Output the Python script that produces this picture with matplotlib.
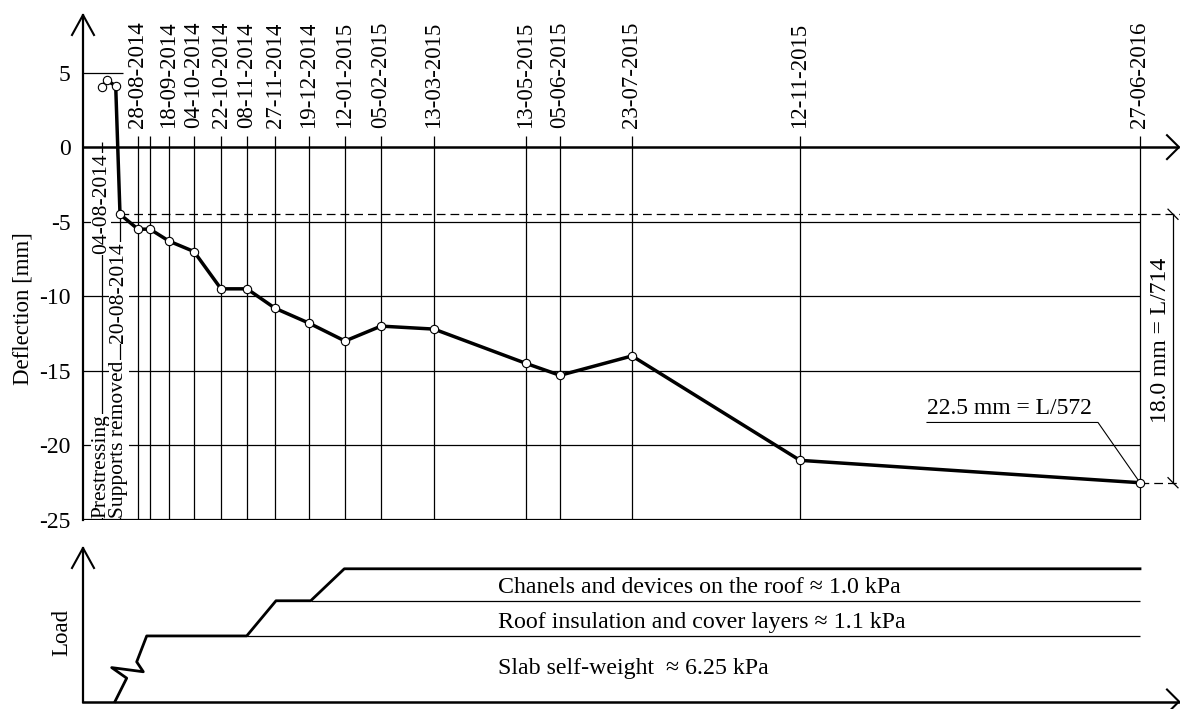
import matplotlib
matplotlib.use('Agg')
import matplotlib.pyplot as plt

plt.rcParams['font.family'] = ['Liberation Serif', 'DejaVu Serif']
plt.rcParams['font.size'] = 16

# positions along the drawn (non-linear) time axis
dates = ['04-08-2014', '20-08-2014', '28-08-2014', '', '18-09-2014', '04-10-2014',
         '22-10-2014', '08-11-2014', '27-11-2014', '19-12-2014', '12-01-2015',
         '05-02-2015', '13-03-2015', '13-05-2015', '05-06-2015', '23-07-2015',
         '12-11-2015', '27-06-2016']
date_pos = [18.7, 37, 55, 67, 86, 111, 138, 164, 192, 226, 262, 298, 351,
            443, 477, 549, 717, 1057]

# measured deflection [mm]
defl_pos = [18.7, 23.7, 32.7, 37, 55, 67, 86, 111, 138, 164, 192, 226, 262,
            298, 351, 443, 477, 549, 717, 1057]
deflection = [4.0, 4.5, 4.1, -4.5, -5.5, -5.5, -6.3, -7.0, -9.5, -9.5, -10.8,
              -11.8, -13.0, -12.0, -12.2, -14.5, -15.3, -14.0, -21.0, -22.5]

# load history (schematic, broken axis near zero)
load_x = [32, 43.7, 28.7, 60.3, 53.7, 63.7, 163.7, 193, 227.7, 261.3, 1057]
load_y = [4.2, 4.93, 5.26, 5.13, 5.44, 6.25, 6.25, 7.35, 7.35, 8.35, 8.35]
layer_start = [163.7, 227.7]
layer_level = [6.25, 7.35]
layer_names = ['Slab self-weight  \u2248 6.25 kPa',
               'Roof insulation and cover layers \u2248 1.1 kPa',
               'Chanels and devices on the roof \u2248 1.0 kPa']
layer_text_y = [5.07, 6.49, 7.58]

fig = plt.figure(figsize=(11.8, 7.09), dpi=100)
W, H = 1180, 709

# ---------------- deflection panel ----------------
ax = fig.add_axes([83 / W, (H - 520) / H, 1097 / W, 505 / H])
ax.set_xlim(0, 1097)
ax.set_ylim(-25, 8.86)
for s in ['top', 'right', 'bottom']:
    ax.spines[s].set_visible(False)
ax.spines['left'].set_linewidth(1.6)
ax.set_xticks([])
ax.set_yticks([-25, -20, -15, -10, -5, 0, 5])
ax.set_yticklabels(['-25', '-20', '-15', '-10', '-5', '0', '5'], fontsize=17)
ax.tick_params(axis='y', length=0, pad=9)

end = date_pos[-1]
ax.hlines([-5, -10, -15, -20], 0, end, color='k', lw=0.9, zorder=1)
ax.hlines(-25, 0, end, color='k', lw=1.6, zorder=1)
ax.hlines(5, 0, 40, color='k', lw=0.9, zorder=1)
ax.hlines(0, 0, 1096, color='k', lw=1.8, zorder=2)
ax.plot([1084, 1096, 1084], [0.8, 0, -0.8], color='k', lw=1.5, clip_on=False)
ax.plot([-11, 0, 11], [7.52, 8.86, 7.52], color='k', lw=1.5, clip_on=False)

# dashed reference lines
ax.hlines(deflection[3], defl_pos[3], 1097, color='k', lw=0.9, ls=(0, (7, 4)), zorder=1)
ax.hlines(deflection[-1], end, 1097, color='k', lw=0.9, ls=(0, (7, 4)), zorder=1)

# date lines and labels
for name, x in zip(dates, date_pos):
    if name == dates[0]:
        ax.vlines(x, -25, 0.35, color='k', lw=0.9, zorder=1)
    elif name == dates[1]:
        ax.vlines(x, -25, deflection[3], color='k', lw=0.9, zorder=1)
    else:
        ax.vlines(x, -25, 0.75, color='k', lw=0.9, zorder=1)
        if name:
            ax.text(x, 1.27, name, rotation=90, ha='center', va='bottom',
                    fontsize=16.5, clip_on=False)

box = dict(facecolor='white', edgecolor='none', pad=0.3)
ax.text(date_pos[0] - 0.5, -24.85, 'Prestressing', rotation=90, ha='center',
        va='bottom', fontsize=15.5, bbox=box, zorder=3)
ax.text(date_pos[0] - 0.5, -0.45, dates[0], rotation=90, ha='center',
        va='top', fontsize=15.5, bbox=box, zorder=3)
ax.text(date_pos[1] - 1, -24.85, 'Supports removed', rotation=90, ha='center',
        va='bottom', fontsize=15.5, bbox=box, zorder=3)
ax.text(date_pos[1] - 1, -13.15, dates[1], rotation=90, ha='center',
        va='bottom', fontsize=15.5, bbox=box, zorder=3)

ax.plot(defl_pos, deflection, color='k', lw=2.5, marker='o', ms=6,
        mfc='white', mec='k', mew=0.8, zorder=4)

# annotations on the right
ax.text(844, -17.5, '22.5 mm = L/572', ha='left', va='center', fontsize=17)
ax.plot([844, 1015, end], [-18.46, -18.46, deflection[-1]], color='k', lw=0.8)
ax.plot([1090, 1090], [deflection[3], deflection[-1]], color='k', lw=0.9,
        clip_on=False)
for yv in [deflection[3], deflection[-1]]:
    ax.plot([1085, 1095], [yv + 0.34, yv - 0.34], color='k', lw=0.9, clip_on=False)
ax.text(1077, -12.95, '18.0 mm = L/714', rotation=90, ha='center', va='center',
        fontsize=17, clip_on=False)

fig.text(23 / W, (H - 309) / H, 'Deflection [mm]', rotation=90, ha='center',
         va='center', fontsize=16.5)

# ---------------- load panel ----------------
bx = fig.add_axes([83 / W, (H - 701.5) / H, 1097 / W, 153.5 / H])
bx.set_xlim(0, 1097)
bx.set_ylim(4.2, 9.0)
bx.axis('off')
bx.plot([0, 0], [4.2, 9.0], color='k', lw=1.6, clip_on=False)
bx.plot([-11, 0, 11], [8.375, 9.0, 8.375], color='k', lw=1.5, clip_on=False)
bx.plot([0, 1096], [4.2, 4.2], color='k', lw=1.8, clip_on=False)
bx.plot([1084, 1096, 1084], [4.575, 4.2, 3.825], color='k', lw=1.5, clip_on=False)

bx.plot(load_x, load_y, color='k', lw=2.0, clip_on=False)
bx.hlines(layer_level, layer_start, end, color='k', lw=0.9)
for name, yv in zip(layer_names, layer_text_y):
    bx.text(415, yv, name, ha='left', va='baseline', fontsize=17.2)

fig.text(62 / W, (H - 632) / H, 'Load', rotation=90, ha='center', va='center',
         fontsize=16.5)

fig.savefig('out.png', dpi=100)
